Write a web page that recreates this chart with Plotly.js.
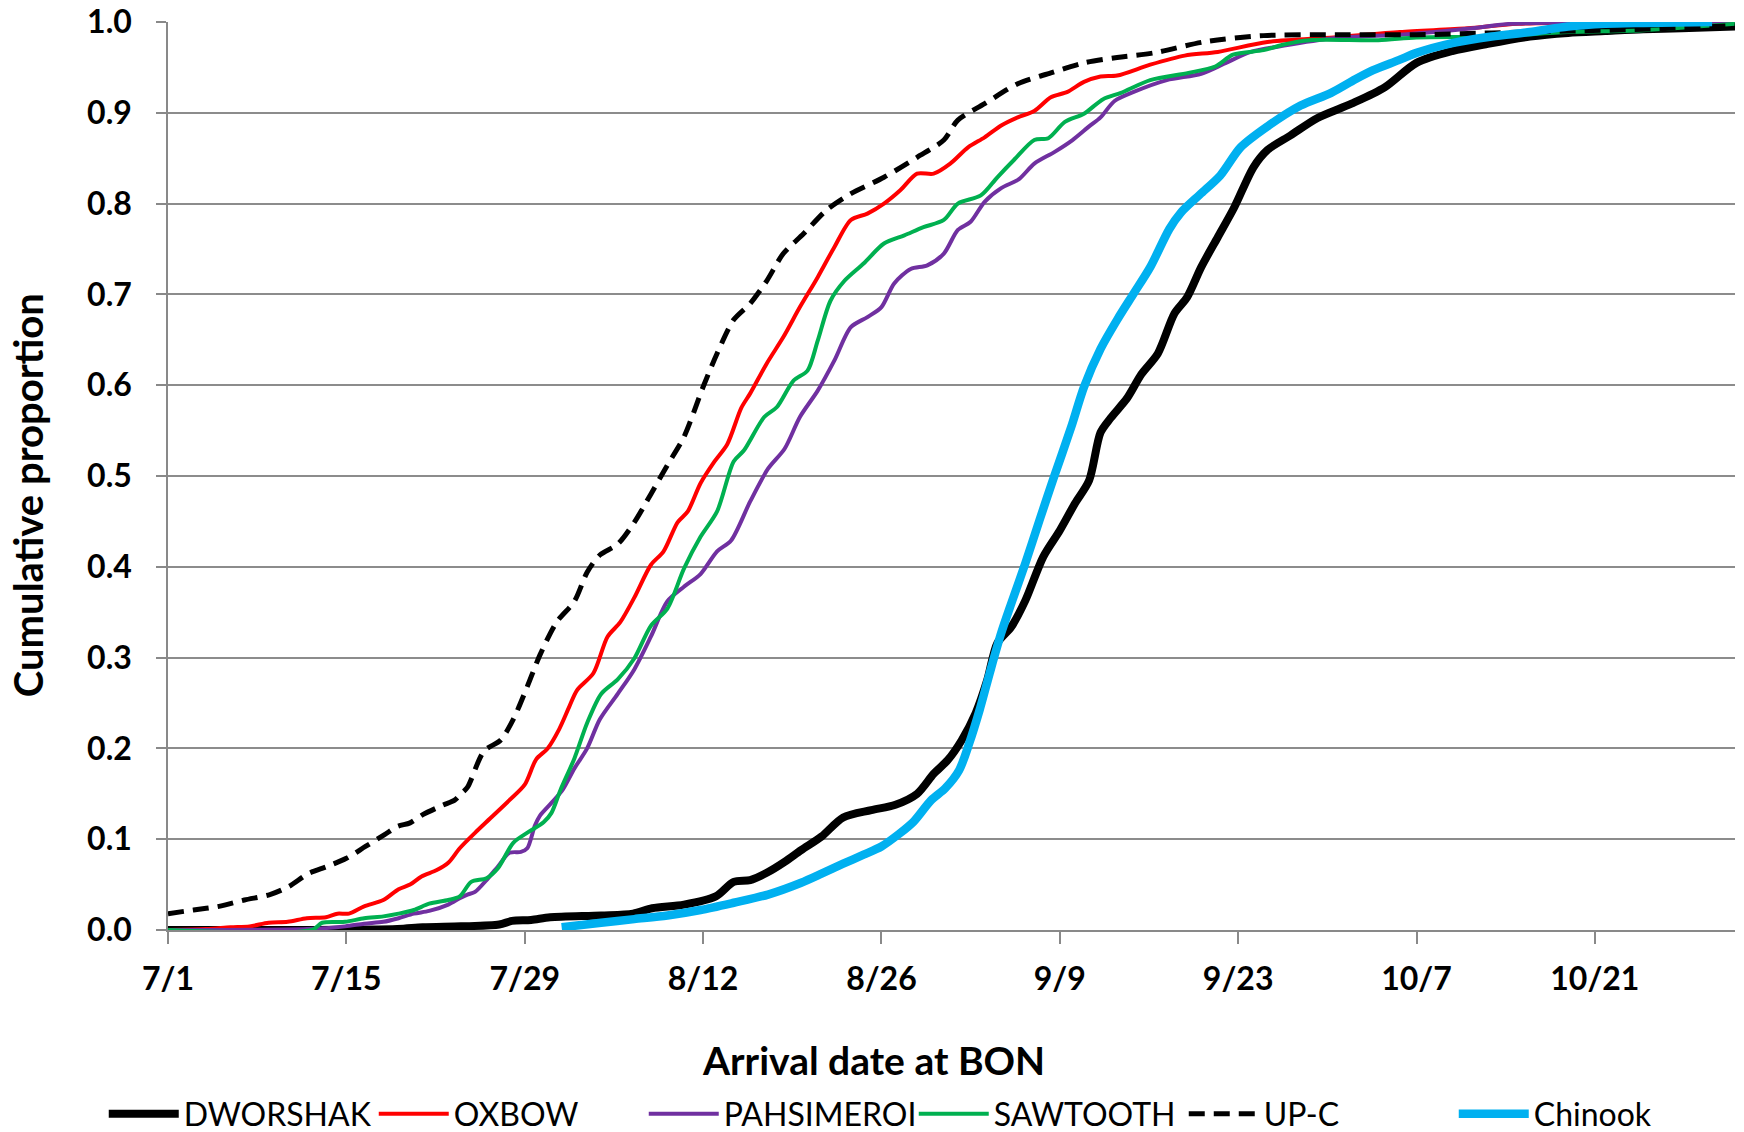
<!DOCTYPE html>
<html>
<head>
<meta charset="utf-8">
<script src="https://cdn.plot.ly/plotly-3.0.1.min.js"></script>
<style>html,body{margin:0;padding:0;background:#fff;}#chart{width:1744px;height:1132px;}</style>
</head>
<body>
<div id="chart"></div>
<script>
// Days since 7/1 on the x axis
const tickDays = [0, 14, 28, 42, 56, 70, 84, 98, 112];
const tickLabels = ["7/1", "7/15", "7/29", "8/12", "8/26", "9/9", "9/23", "10/7", "10/21"];
const yTicks = [0, 0.1, 0.2, 0.3, 0.4, 0.5, 0.6, 0.7, 0.8, 0.9, 1.0];

const seriesNames = ["DWORSHAK", "OXBOW", "PAHSIMEROI", "SAWTOOTH", "UP-C", "Chinook"];

const dworshakDays = [0, 10, 18, 20, 23, 26, 27, 28.5, 30, 34, 36.5, 38, 40.5, 43, 44.4, 45.7, 47, 48.4, 49.7, 51.3, 53, 55.2, 57.1, 58.8, 60.1, 61.2, 62.3, 63.4, 64.3, 65.1, 66.2, 67.3, 68.7, 70, 71.2, 72.3, 73.2, 74, 75.3, 76.4, 77.7, 79, 80, 81.1, 82.4, 83.7, 85.2, 86.3, 88.1, 90.2, 92.9, 95.5, 98, 100.8, 103.6, 106.9, 109.9, 112.8, 115.8, 118.8, 123];
const dworshakValues = [0, 0, 0.001, 0.003, 0.004, 0.006, 0.01, 0.011, 0.014, 0.016, 0.018, 0.024, 0.028, 0.037, 0.053, 0.055, 0.063, 0.075, 0.088, 0.103, 0.124, 0.132, 0.138, 0.15, 0.172, 0.187, 0.209, 0.239, 0.275, 0.316, 0.334, 0.363, 0.411, 0.44, 0.47, 0.495, 0.548, 0.564, 0.586, 0.612, 0.635, 0.679, 0.697, 0.73, 0.763, 0.796, 0.84, 0.859, 0.875, 0.894, 0.91, 0.928, 0.955, 0.968, 0.976, 0.984, 0.988, 0.99, 0.992, 0.993, 0.995];

const oxbowDays = [0, 3, 4.9, 6.4, 7.9, 9.4, 10.9, 12.4, 13.3, 14.2, 15.4, 16.9, 18.1, 19, 19.9, 21.1, 22, 22.9, 24.1, 25.3, 26.8, 28, 28.9, 29.8, 30.7, 31.5, 32.1, 33.4, 34.5, 35.5, 36.6, 37.9, 38.9, 40, 40.8, 41.8, 42.9, 43.9, 45, 45.7, 47, 48.3, 49.6, 51, 52.3, 53.6, 54.9, 56.2, 57.5, 58.8, 60.1, 61.4, 62.8, 64.1, 65.4, 66.7, 68, 69.3, 70.6, 71.9, 73.2, 74.5, 77.1, 79.8, 82.4, 86.3, 91.5, 96.7, 102, 106, 123];
const oxbowValues = [0, 0.001, 0.003, 0.004, 0.008, 0.009, 0.013, 0.014, 0.018, 0.018, 0.026, 0.033, 0.045, 0.05, 0.059, 0.066, 0.074, 0.09, 0.107, 0.123, 0.143, 0.16, 0.188, 0.2, 0.221, 0.246, 0.264, 0.283, 0.323, 0.339, 0.366, 0.402, 0.417, 0.449, 0.461, 0.492, 0.516, 0.535, 0.575, 0.591, 0.624, 0.653, 0.686, 0.719, 0.752, 0.782, 0.789, 0.8, 0.815, 0.833, 0.833, 0.844, 0.862, 0.873, 0.886, 0.895, 0.902, 0.917, 0.923, 0.934, 0.94, 0.941, 0.953, 0.963, 0.967, 0.978, 0.983, 0.989, 0.993, 0.998, 1.0];

const pahsimeroiDays = [0, 10.9, 13.9, 15.4, 16.9, 18.1, 19.3, 20.5, 22, 22.9, 23.5, 24.1, 25, 25.9, 26.8, 27.7, 28.2, 28.8, 29.2, 30.1, 31, 31.9, 32.9, 33.9, 35.3, 36.6, 37.9, 39.2, 40.5, 41.8, 43.1, 44.2, 45.7, 47.1, 48.4, 49.6, 51, 52.3, 53.6, 54.9, 56, 57, 58.3, 59.6, 60.9, 62, 63, 64.1, 65.4, 66.8, 68, 69.6, 71, 72.3, 73.2, 74.3, 75.8, 78.4, 81.1, 82.9, 85, 87.6, 91.5, 96.7, 99.4, 102.4, 105.4, 123];
const pahsimeroiValues = [0, 0.001, 0.004, 0.007, 0.009, 0.013, 0.018, 0.021, 0.028, 0.035, 0.039, 0.042, 0.055, 0.07, 0.085, 0.086, 0.09, 0.115, 0.126, 0.14, 0.155, 0.178, 0.2, 0.232, 0.26, 0.287, 0.323, 0.362, 0.378, 0.392, 0.417, 0.429, 0.472, 0.508, 0.53, 0.565, 0.594, 0.627, 0.664, 0.675, 0.686, 0.712, 0.728, 0.732, 0.745, 0.771, 0.78, 0.802, 0.817, 0.827, 0.844, 0.857, 0.87, 0.885, 0.895, 0.913, 0.923, 0.936, 0.943, 0.954, 0.967, 0.974, 0.982, 0.986, 0.989, 0.993, 0.998, 1.0];

const sawtoothDays = [0, 11.3, 12.1, 13.9, 15.4, 16.9, 18.1, 19.3, 20.5, 22, 22.9, 23.8, 25, 25.9, 27.1, 28.3, 29.5, 30.1, 30.8, 31.9, 32.9, 34, 35.3, 36.6, 37.9, 39.2, 40.5, 41.8, 43.1, 44.4, 45.2, 46.8, 47.8, 49.1, 50.2, 51, 52, 53.1, 54.6, 56.2, 57.8, 59.3, 60.9, 62, 63.8, 65.1, 66.4, 68, 69.1, 70.4, 71.9, 73.4, 74.8, 77.1, 80.1, 82.2, 83.6, 86, 87.5, 89.6, 95, 98, 103.9, 109.9, 115.8, 123];
const sawtoothValues = [0, 0, 0.008, 0.009, 0.013, 0.015, 0.018, 0.022, 0.029, 0.033, 0.037, 0.053, 0.057, 0.068, 0.096, 0.108, 0.119, 0.129, 0.154, 0.189, 0.228, 0.26, 0.276, 0.299, 0.335, 0.354, 0.398, 0.433, 0.461, 0.516, 0.528, 0.565, 0.576, 0.605, 0.616, 0.649, 0.693, 0.715, 0.734, 0.756, 0.765, 0.774, 0.782, 0.8, 0.809, 0.829, 0.848, 0.87, 0.872, 0.89, 0.899, 0.915, 0.922, 0.936, 0.944, 0.951, 0.964, 0.969, 0.975, 0.98, 0.98, 0.983, 0.984, 0.989, 0.991, 0.998];

const upcDays = [0, 2, 4, 6, 8, 9.5, 11, 12.5, 14, 15.5, 17, 18, 19, 20, 21.5, 22.5, 23, 23.5, 24.8, 26.1, 27.1, 28.2, 29.2, 30.5, 31.9, 32.9, 33.9, 35.3, 36.6, 37.9, 39.2, 40.5, 42, 43.1, 44.4, 45.7, 47, 48.3, 49.9, 51.7, 53.6, 56.2, 58.8, 60.9, 62, 64.1, 66.7, 69.3, 71.9, 74.5, 77.4, 81.3, 86, 92, 98, 103.9, 109.9, 115.8, 123];
const upcValues = [0.018, 0.022, 0.026, 0.033, 0.039, 0.048, 0.062, 0.07, 0.079, 0.092, 0.105, 0.114, 0.118, 0.127, 0.137, 0.143, 0.15, 0.157, 0.197, 0.209, 0.232, 0.268, 0.303, 0.339, 0.362, 0.394, 0.413, 0.425, 0.449, 0.48, 0.512, 0.543, 0.598, 0.635, 0.672, 0.69, 0.715, 0.745, 0.767, 0.793, 0.811, 0.829, 0.851, 0.87, 0.892, 0.91, 0.932, 0.944, 0.955, 0.961, 0.966, 0.978, 0.985, 0.986, 0.986, 0.988, 0.99, 0.992, 0.996];

const chinookDays = [30.9, 34, 36.6, 39.2, 41.8, 44.4, 47.1, 49.7, 51.3, 53, 54.6, 56, 57.4, 58.5, 59.9, 61, 62.1, 62.9, 63.7, 64.5, 65.4, 66.2, 67.3, 68.4, 69.5, 70.9, 71.9, 73.2, 74.5, 75.8, 77.1, 78.6, 79.5, 81, 82.6, 84.2, 86.3, 88.9, 91.3, 93.2, 94.6, 96.6, 98, 100.9, 103.9, 106.9, 109.9, 112.8, 115.8, 121.2];
const chinookValues = [0.003, 0.008, 0.012, 0.016, 0.022, 0.03, 0.039, 0.052, 0.062, 0.073, 0.083, 0.092, 0.106, 0.119, 0.143, 0.156, 0.176, 0.206, 0.242, 0.283, 0.327, 0.36, 0.404, 0.451, 0.497, 0.554, 0.598, 0.64, 0.672, 0.701, 0.73, 0.772, 0.79, 0.81, 0.831, 0.862, 0.885, 0.908, 0.922, 0.937, 0.947, 0.958, 0.966, 0.977, 0.984, 0.989, 0.995, 0.998, 0.999, 1.0];

const FONT = "Lato, 'Open Sans', 'DejaVu Sans', sans-serif";

function lineTrace(name, xs, ys, color, width, dash) {
  return {
    type: "scatter", mode: "lines", name: name, x: xs, y: ys,
    line: {color: color, width: width, dash: dash || "solid", shape: "spline", smoothing: 0.8},
    hoverinfo: "x+y+name"
  };
}

const data = [
  lineTrace(seriesNames[0], dworshakDays, dworshakValues, "#000000", 8),
  lineTrace(seriesNames[1], oxbowDays, oxbowValues, "#FF0000", 4),
  lineTrace(seriesNames[2], pahsimeroiDays, pahsimeroiValues, "#7030A0", 4),
  lineTrace(seriesNames[3], sawtoothDays, sawtoothValues, "#00B050", 4),
  lineTrace(seriesNames[4], upcDays, upcValues, "#000000", 5, "16px,9px"),
  lineTrace(seriesNames[5], chinookDays, chinookValues, "#00B0F0", 8.5)
];

const layout = {
  width: 1744, height: 1132,
  margin: {l: 168, r: 9, t: 22, b: 202, pad: 0, autoexpand: false},
  paper_bgcolor: "#ffffff", plot_bgcolor: "#ffffff",
  font: {family: FONT, color: "#000000"},
  showlegend: true,
  xaxis: {
    range: [0, 123], tickmode: "array", tickvals: tickDays, ticktext: tickLabels,
    showgrid: false, zeroline: false, automargin: false,
    showline: true, linecolor: "#898989", linewidth: 1.5,
    ticks: "outside", ticklen: 12, tickwidth: 1.5, tickcolor: "#898989",
    tickfont: {family: FONT, size: 32, color: "#000000", weight: "bold"},
    ticklabelstandoff: 8
  },
  yaxis: {
    range: [0, 1], tickmode: "array", tickvals: yTicks, tickformat: ".1f",
    showgrid: true, gridcolor: "#8c8c8c", gridwidth: 1.5, zeroline: false, automargin: false,
    showline: true, linecolor: "#898989", linewidth: 1.5,
    ticks: "outside", ticklen: 10, tickwidth: 1.5, tickcolor: "#898989",
    tickfont: {family: FONT, size: 32, color: "#000000", weight: "bold"},
    ticklabelstandoff: 18
  },
  legend: {
    orientation: "h", x: -0.041, xanchor: "left", y: -0.2026, yanchor: "middle",
    font: {family: FONT, size: 32, color: "#000000"},
    bgcolor: "rgba(0,0,0,0)", borderwidth: 0, itemwidth: 70,
    entrywidth: 185, entrywidthmode: "pixels"
  },
  annotations: [
    {text: "Arrival date at BON", xref: "paper", yref: "paper", x: 0.4505, y: -0.143,
     xanchor: "center", yanchor: "middle", showarrow: false,
     font: {family: FONT, size: 39, color: "#000000", weight: "bold"}},
    {text: "Cumulative proportion", xref: "paper", yref: "paper", x: -0.0893, y: 0.479,
     xanchor: "center", yanchor: "middle", showarrow: false, textangle: -90,
     font: {family: FONT, size: 40, color: "#000000", weight: "bold"}}
  ]
};

Plotly.newPlot("chart", data, layout, {displayModeBar: false, responsive: false});
</script>
</body>
</html>
